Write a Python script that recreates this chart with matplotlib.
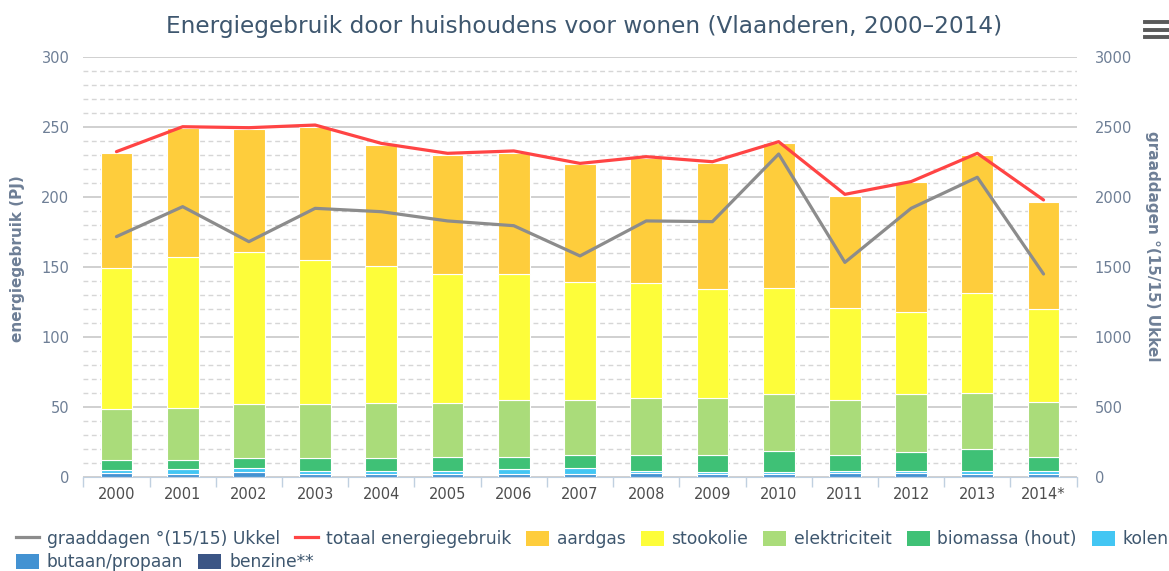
import matplotlib
matplotlib.use('Agg')
import matplotlib.pyplot as plt
import numpy as np
from matplotlib.ticker import MultipleLocator
from matplotlib.lines import Line2D
from matplotlib.patches import Patch

# data (PJ, graaddagen)
years = ['2000', '2001', '2002', '2003', '2004', '2005', '2006', '2007',
         '2008', '2009', '2010', '2011', '2012', '2013', '2014*']
aardgas = [82.4, 91.9, 87.6, 95.2, 86.1, 84.8, 86.2, 84.3, 89.3, 90.5, 103.5, 80.0, 92.8, 98.6, 76.7]
stookolie = [100.7, 107.9, 108.8, 103.1, 98.0, 92.1, 89.8, 83.8, 82.1, 77.8, 75.3, 65.7, 58.4, 71.0, 66.2]
elektriciteit = [35.9, 37.1, 38.6, 38.6, 39.7, 38.6, 40.9, 39.7, 40.7, 40.7, 40.7, 39.5, 41.6, 40.4, 39.5]
biomassa = [7.1, 6.9, 6.8, 9.1, 9.1, 9.8, 8.3, 8.8, 11.2, 12.2, 15.5, 11.0, 13.4, 15.3, 9.8]
kolen = [2.4, 3.0, 3.2, 2.0, 2.0, 2.2, 3.5, 4.2, 1.5, 1.0, 1.0, 1.5, 1.5, 2.0, 2.0]
butaan = [2.6, 2.2, 3.0, 1.9, 1.9, 2.0, 2.2, 2.2, 2.5, 2.0, 2.0, 2.7, 2.7, 2.2, 2.2]
benzine = [0.3, 0.3, 0.3, 0.3, 0.3, 0.3, 0.3, 0.3, 0.3, 0.3, 0.3, 0.3, 0.3, 0.3, 0.3]
totaal = [232.4, 250.2, 249.5, 251.4, 238.3, 231.2, 232.9, 224.0, 228.8, 225.2, 239.5, 201.9, 211.0, 231.2, 197.9]
graaddagen = [1717, 1931, 1681, 1919, 1895, 1829, 1795, 1579, 1829, 1824, 2307, 1533, 1919, 2141, 1450]

title_col = '#3e576f'
axis_col = '#6e7f96'

fig = plt.figure(figsize=(11.69, 5.71), dpi=100)
ax = fig.add_axes([0.0713, 0.1646, 0.8497, 0.7356])

x = np.arange(len(years))
bottom = np.zeros(len(years))
stack = [
    (benzine, '#3b5585', 'benzine**'),
    (butaan, '#4392d2', 'butaan/propaan'),
    (kolen, '#43c6f3', 'kolen'),
    (biomassa, '#3fc176', 'biomassa (hout)'),
    (elektriciteit, '#aadc7a', 'elektriciteit'),
    (stookolie, '#fdfd3a', 'stookolie'),
    (aardgas, '#fecd3c', 'aardgas'),
]
for vals, col, name in stack:
    ax.bar(x, vals, 0.48, bottom=bottom, color=col, edgecolor='white',
           linewidth=0.8, zorder=2)
    bottom += np.array(vals)

ax.plot(x, totaal, color='#ff4444', lw=2.3, zorder=4, solid_capstyle='round')

ax.set_xlim(-0.5, 14.5)
ax.set_ylim(0, 300)
ax.set_yticks(np.arange(0, 301, 50))
ax.yaxis.set_minor_locator(MultipleLocator(10))
ax.set_xticks(x)
ax.set_xticklabels(years)
ax.set_xticks(np.arange(-0.5, 15, 1), minor=True)
ax.set_axisbelow(True)
ax.grid(axis='y', which='major', color='#c4c4c4', lw=1.1)
ax.grid(axis='y', which='minor', color='#d6d6d6', lw=1, linestyle=(0, (3.5, 2.5)))
ax.grid(axis='x', which='both', visible=False)
for s in ['top', 'left', 'right']:
    ax.spines[s].set_visible(False)
ax.spines['bottom'].set_color('#c0d0e0')
ax.tick_params(axis='x', which='major', length=0, pad=7, labelsize=10.5, labelcolor='#4d4d4d')
ax.tick_params(axis='x', which='minor', length=7, color='#c0d0e0', width=1)
ax.tick_params(axis='y', which='both', length=0, pad=10, labelsize=10.5, labelcolor=axis_col)
ax.set_ylabel('energiegebruik (PJ)', fontsize=11, fontweight='bold', color=axis_col)
ax.yaxis.set_label_coords(-0.059, 0.52)

ax2 = ax.twinx()
ax2.plot(x, graaddagen, color='#8c8c8c', lw=2.3, solid_capstyle='round')
ax2.set_ylim(0, 3000)
ax2.set_yticks(np.arange(0, 3001, 500))
for s in ax2.spines.values():
    s.set_visible(False)
ax2.tick_params(axis='y', length=0, pad=13, labelsize=10.5, labelcolor=axis_col)
ax2.set_ylabel('graaddagen °(15/15) Ukkel', fontsize=11, fontweight='bold',
               color=axis_col, rotation=270, va='bottom')
ax2.yaxis.set_label_coords(1.069, 0.55)

fig.text(0.5, 0.953, 'Energiegebruik door huishoudens voor wonen (Vlaanderen, 2000–2014)',
         ha='center', va='center', fontsize=16.7, color=title_col)

# hamburger menu icon
for yy in [22, 29.5, 37]:
    fig.add_artist(Line2D([1145 / 1169, 1.0], [1 - yy / 571] * 2, color='#5a5a5a', lw=2.8))

# legend, flowing over two rows
handles = [Line2D([], [], color='#8c8c8c', lw=2.3),
           Line2D([], [], color='#ff4444', lw=2.3)]
labels = ['graaddagen °(15/15) Ukkel', 'totaal energiegebruik']
for vals, col, name in reversed(stack):
    handles.append(Patch(facecolor=col, edgecolor='none'))
    labels.append(name)

leg_kw = dict(loc='upper left', frameon=False, fontsize=12.3, labelcolor=title_col,
              handlelength=1.35, handleheight=1.0, handletextpad=0.45,
              columnspacing=0.88, borderpad=0, borderaxespad=0)
fig.legend(handles[:7], labels[:7], ncol=7, bbox_to_anchor=(16 / 1169, 1 - 530 / 571), **leg_kw)
fig.legend(handles[7:], labels[7:], ncol=2, bbox_to_anchor=(16 / 1169, 1 - 553 / 571), **leg_kw)

fig.savefig('out.png', dpi=100)
